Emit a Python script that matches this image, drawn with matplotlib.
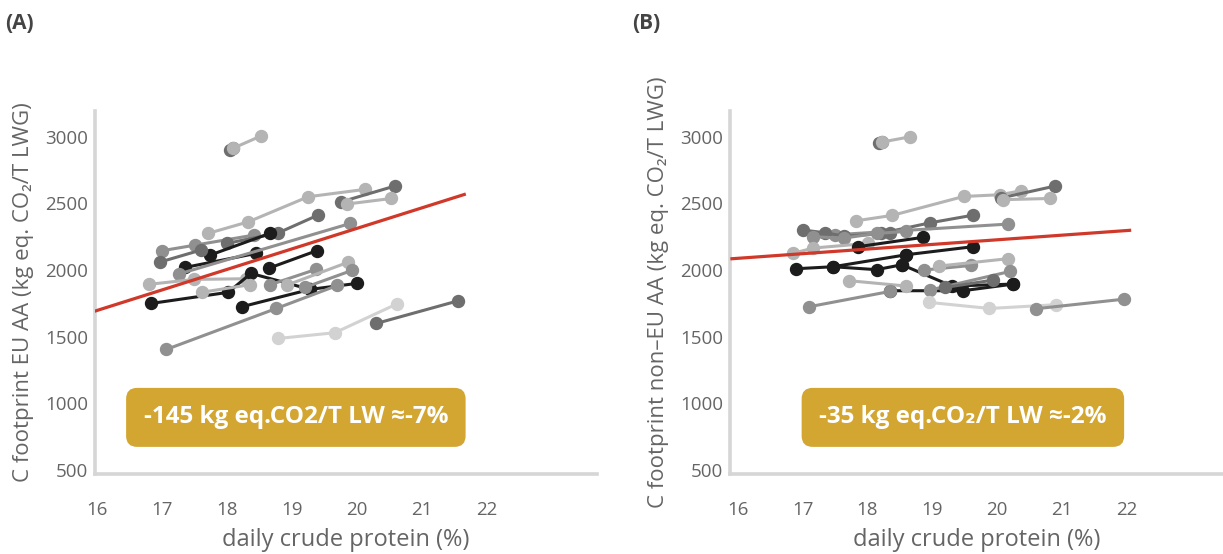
import matplotlib
matplotlib.use("Agg")
import matplotlib.pyplot as plt

# ---------------- data ----------------
x_ticks = [16, 17, 18, 19, 20, 21, 22]
y_ticks = [500, 1000, 1500, 2000, 2500, 3000]

# Panel A: EU amino acids - trajectories (x = crude protein %, y = C footprint)
a_series_x = [
    [18.04, 18.10], [18.10, 18.52],
    [17.71, 18.33, 19.25, 20.12], [19.76, 20.58], [19.84, 20.53],
    [17.00, 17.51, 18.41], [18.00, 18.78, 19.40], [17.74, 18.66],
    [17.36, 18.45], [18.65, 19.38], [17.27, 19.90], [16.97, 17.60],
    [16.80, 17.50, 18.30], [16.84, 18.02, 18.37, 19.28], [17.61, 18.35],
    [18.23, 19.28, 20.00], [17.07, 18.76, 19.70], [18.67, 19.37],
    [18.92, 19.86], [19.20, 19.92], [18.79, 19.66, 20.61], [20.30, 21.56],
]
a_series_y = [
    [2900, 2915], [2915, 3005],
    [2275, 2362, 2550, 2605], [2512, 2630], [2495, 2537],
    [2145, 2187, 2262], [2200, 2277, 2412], [2112, 2275],
    [2020, 2125], [2015, 2145], [1972, 2350], [2060, 2150],
    [1893, 1930, 1935], [1750, 1833, 1975, 1855], [1833, 1890],
    [1725, 1855, 1900], [1405, 1712, 1885], [1891, 2005],
    [1887, 2058], [1870, 1997], [1487, 1530, 1745], [1600, 1770],
]
a_shades = ["dark", "light", "light", "dark", "light", "gray", "dark", "black",
            "black", "black", "gray", "dark", "light", "black", "light",
            "black", "gray", "gray", "light", "gray", "vlight", "dark"]
a_fit_x = [15.97, 21.65]
a_fit_y = [1692, 2567]
a_note = "-145 kg eq.CO2/T LW ≈-7%"

# Panel B: non-EU amino acids
b_series_x = [
    [18.17, 18.22], [18.22, 18.66],
    [17.83, 18.38, 19.48, 20.04, 20.37], [20.05, 20.89], [20.09, 20.81],
    [18.20, 18.97, 19.63], [17.50, 20.17], [17.01, 17.34, 17.64, 18.34],
    [17.16, 17.64, 18.14, 18.60], [16.85, 17.16, 18.00], [17.85, 18.85],
    [18.60, 19.62], [16.90, 17.47, 18.14, 18.53], [17.47, 18.60],
    [18.53, 19.30, 20.25], [18.35, 19.47, 20.25], [18.87, 19.60],
    [19.10, 20.16], [18.96, 20.20], [19.20, 19.94], [17.72, 18.60],
    [17.10, 18.35], [18.94, 19.88, 20.90], [20.60, 21.96],
]
b_series_y = [
    [2950, 2960], [2960, 3000],
    [2370, 2410, 2552, 2565, 2595], [2540, 2630], [2528, 2537],
    [2275, 2355, 2412], [2265, 2345], [2300, 2280, 2255, 2275],
    [2250, 2240, 2275, 2290], [2125, 2165, 2200], [2175, 2245],
    [2115, 2175], [2010, 2025, 2003, 2040], [2025, 2115],
    [2040, 1880, 1895], [1845, 1845, 1895], [2000, 2035],
    [2030, 2085], [1850, 1990], [1870, 1925], [1920, 1880],
    [1725, 1840], [1758, 1712, 1740], [1710, 1782],
]
b_shades = ["dark", "light", "light", "dark", "light", "dark", "gray", "dark",
            "gray", "light", "black", "black", "black", "black", "black",
            "black", "gray", "light", "gray", "dark", "light", "gray",
            "vlight", "gray"]
b_fit_x = [15.91, 22.04]
b_fit_y = [2085, 2298]
b_note = "-35 kg eq.CO₂/T LW ≈-2%"

# ---------------- styling ----------------
shade_colors = {"black": "#1c1c1c", "dark": "#6e6e6e", "gray": "#909090",
                "light": "#b4b4b4", "vlight": "#d2d2d2"}
FONT = ["Open Sans", "DejaVu Sans"]
plt.rcParams["font.family"] = FONT
TEXT_GRAY = "#656565"
SPINE_GRAY = "#d6d6d6"
RED = "#d0392a"
GOLD = "#d3a632"

fig = plt.figure(figsize=(12.23, 5.54), dpi=100)


def panel(rect, xlim, sx, sy, shades, fit_x, fit_y, note, note_x,
          ylabel, tag, tag_x):
    ax = fig.add_axes(rect)
    ax.set_xlim(*xlim)
    ax.set_ylim(474, 3193)
    for xs, ys, s in zip(sx, sy, shades):
        c = shade_colors[s]
        ax.plot(xs, ys, "-o", color=c, lw=2.2, ms=8.6, mec=c, zorder=3,
                solid_capstyle="round")
    ax.plot(fit_x, fit_y, color=RED, lw=2.3, zorder=5)

    for side in ("top", "right"):
        ax.spines[side].set_visible(False)
    for side in ("left", "bottom"):
        ax.spines[side].set_color(SPINE_GRAY)
        ax.spines[side].set_linewidth(2.6)
    ax.set_xticks(x_ticks)
    ax.set_yticks(y_ticks)
    ax.tick_params(axis="both", length=0, labelsize=13.5, labelcolor=TEXT_GRAY)
    ax.tick_params(axis="x", pad=20)
    ax.tick_params(axis="y", pad=5)
    ax.set_xlabel("daily crude protein (%)", fontsize=17, color=TEXT_GRAY,
                  labelpad=6)
    ax.set_ylabel(ylabel, fontsize=16, color=TEXT_GRAY, labelpad=8)
    ax.patch.set_alpha(0)

    ax.text(note_x, 895, note, ha="center", va="center", fontsize=17.5,
            fontweight="bold", color="white", zorder=6,
            bbox=dict(boxstyle="round,pad=0.72,rounding_size=0.45",
                      fc=GOLD, ec="none"))
    fig.text(tag_x, 0.958, tag, fontsize=15, fontweight="bold",
             color="#444444", ha="left", va="center")
    return ax


panel([0.0776, 0.1453, 0.4105, 0.6543], (15.97, 23.69),
      a_series_x, a_series_y, a_shades, a_fit_x, a_fit_y, a_note, 19.06,
      "C footprint EU AA (kg eq. CO₂/T LWG)", "(A)", 0.004)
panel([0.5969, 0.1453, 0.4031, 0.6543], (15.88, 23.48),
      b_series_x, b_series_y, b_shades, b_fit_x, b_fit_y, b_note, 19.47,
      "C footprint non–EU AA (kg eq. CO₂/T LWG)", "(B)", 0.517)

fig.savefig("out.png", dpi=100)
